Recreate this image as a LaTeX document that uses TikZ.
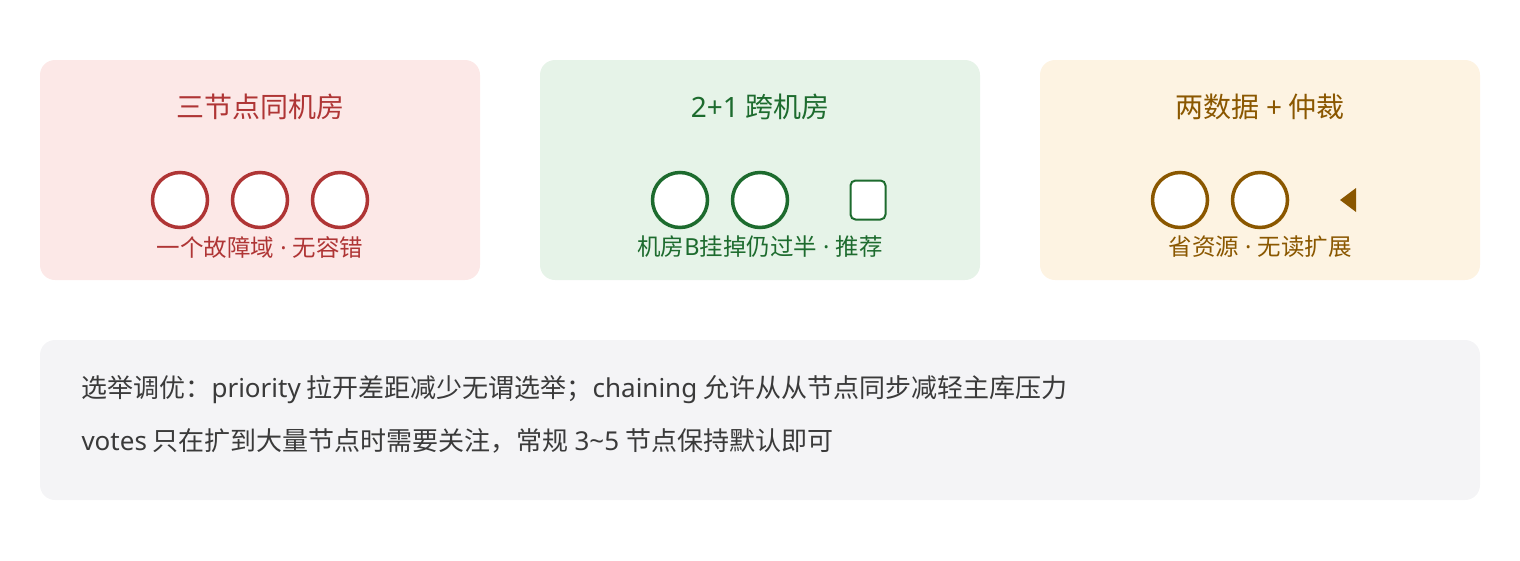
\documentclass[tikz,border=0pt]{standalone}
\usepackage{fontspec}
\setmainfont{Noto Sans CJK SC}
\newfontfamily\latinfont{Noto Sans}
\usepackage{tikz}
\usetikzlibrary{positioning}

\definecolor{redbg}{HTML}{FCE8E7}
\definecolor{redfg}{HTML}{AF3535}
\definecolor{greenbg}{HTML}{E6F3E8}
\definecolor{greenfg}{HTML}{1D6B2E}
\definecolor{orangebg}{HTML}{FDF3E2}
\definecolor{orangefg}{HTML}{8A5700}
\definecolor{graybg}{HTML}{F4F4F6}
\definecolor{grayfg}{HTML}{3A3A3A}
\newcommand{\sepdot}{{\latinfont\ ·\ }}

\begin{document}
\begin{tikzpicture}[x=1pt,y=-1pt,
 panel/.style={rounded corners=15pt,minimum width=440pt,minimum height=220pt,inner sep=0pt},
 title/.style={font=\fontsize{28pt}{32pt}\selectfont},
 caption/.style={font=\fontsize{23.5pt}{27pt}\selectfont},
 member/.style={circle,fill=white,line width=3.5pt,minimum size=55pt,inner sep=0pt},
 arbiter/.style={rounded corners=5pt,fill=white,line width=2pt,minimum width=35pt,minimum height=39pt,inner sep=0pt},
 note/.style={anchor=west,text=grayfg,font=\fontsize{26pt}{30pt}\selectfont}]
 \useasboundingbox (0,0) rectangle (1520,560);

 \node[panel,fill=redbg] (same) at (260,170) {};
 \node[panel,fill=greenbg] (cross) at (760,170) {};
 \node[panel,fill=orangebg] (pair) at (1260,170) {};
 \node[panel,fill=graybg,minimum width=1440pt,minimum height=160pt] (tips) at (760,420) {};

 \node[title,text=redfg] (sametitle) at (260,107) {三节点同机房};
 \node[member,draw=redfg] (s1) at (180,200) {};
 \node[member,draw=redfg] (s2) at (260,200) {};
 \node[member,draw=redfg] (s3) at (340,200) {};
 \node[caption,text=redfg] (samenote) at (260,247) {一个故障域\sepdot 无容错};

 \node[title,text=greenfg] (crosstitle) at (760,107) {{\latinfont 2+1} 跨机房};
 \node[member,draw=greenfg] (c1) at (680,200) {};
 \node[member,draw=greenfg] (c2) at (760,200) {};
 \node[arbiter,draw=greenfg] (c3) at (868,200) {};
 \node[caption,text=greenfg] (crossnote) at (760,247) {机房{\latinfont B}挂掉仍过半\sepdot 推荐};

 \node[title,text=orangefg] (pairtitle) at (1260,107) {两数据 {\latinfont +} 仲裁};
 \node[member,draw=orangefg] (p1) at (1180,200) {};
 \node[member,draw=orangefg] (p2) at (1260,200) {};
 \fill[orangefg] (1340,200) -- (1356,188) -- (1356,212) -- cycle;
 \node[caption,text=orangefg] (pairnote) at (1260,247) {省资源\sepdot 无读扩展};

 \node[note] (line1) at (78,390) {选举调优：{\latinfont priority} 拉开差距减少无谓选举；{\latinfont chaining} 允许从从节点同步减轻主库压力};
 \node[note] (line2) at (78,441) {{\latinfont votes} 只在扩到大量节点时需要关注，常规 {\latinfont 3\textasciitilde 5} 节点保持默认即可};
\end{tikzpicture}
\end{document}
